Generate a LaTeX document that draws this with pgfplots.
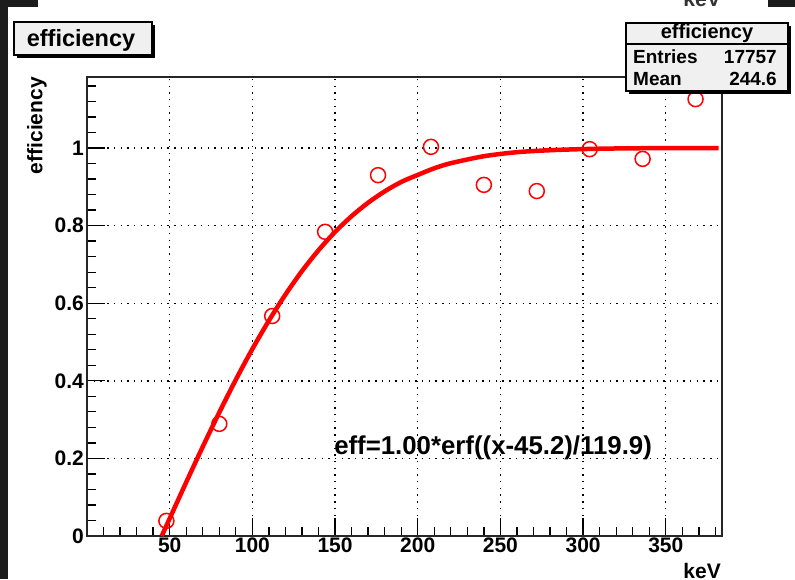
\documentclass[border=0pt]{standalone}
\usepackage{fontspec}
\setmainfont{Liberation Sans}
\usepackage{pgfplots}
\pgfplotsset{compat=1.18}
\definecolor{darkbg}{RGB}{28,28,28}
\definecolor{boxfill}{RGB}{240,240,240}
\begin{document}
\begin{tikzpicture}[x=1pt,y=1pt]
\path[use as bounding box] (0,0) rectangle (795,579);
\fill[white] (0,0) rectangle (795,579);
\fill[darkbg] (0,0) rectangle (8,579);
\fill[darkbg] (0,572) rectangle (38,579);
\fill[darkbg] (768,572) rectangle (795,579);
\begin{scope}
\clip (38,572) rectangle (768,579);
\node[anchor=base east, inner sep=0pt, font=\bfseries\fontsize{21}{21}\selectfont, text=black!80] at (721,572) {keV};
\end{scope}
\begin{axis}[
  at={(87pt,43pt)}, anchor=south west,
  width=635pt, height=459pt, scale only axis,
  xmin=0, xmax=384, ymin=0, ymax=1.183,
  axis line style={line width=1.5pt, black!85},
  tick align=inside, tick pos=left,
  xtick={50,100,150,200,250,300,350},
  xticklabels={50,100,150,200,250,300,350},
  minor xtick={10,20,30,40,60,70,80,90,110,120,130,140,160,170,180,190,210,220,230,240,260,270,280,290,310,320,330,340,360,370,380},
  ytick={0,0.2,0.4,0.6,0.8,1},
  yticklabels={0,0.2,0.4,0.6,0.8,1},
  minor ytick={0.04,0.08,0.12,0.16,0.24,0.28,0.32,0.36,0.44,0.48,0.52,0.56,0.64,0.68,0.72,0.76,0.84,0.88,0.92,0.96,1.04,1.08,1.12,1.16},
  major tick length=18pt, minor tick length=9pt,
  every tick/.style={black, line width=1.3pt},
  xmajorgrids, ymajorgrids,
  major grid style={black, line width=1.4pt, dash pattern=on 1.4pt off 5.3pt},
  /pgf/number format/assume math mode=true,
  xticklabel style={font=\bfseries\fontsize{21}{21}\selectfont, inner sep=2pt},
  yticklabel style={font=\bfseries\fontsize{21}{21}\selectfont, inner sep=3pt},
]
\addplot[red, line width=4.5pt, smooth] coordinates {
(45.2,0) (50,0.0451) (60,0.1386) (70,0.2301) (80,0.3185) (90,0.4028)
(100,0.4820) (110,0.5551) (120,0.6223) (130,0.6828) (140,0.7365)
(150,0.7836) (160,0.8243) (170,0.8590) (180,0.8882) (190,0.9124)
(200,0.9306) (210,0.9477) (220,0.9608) (240,0.9788) (260,0.9892)
(280,0.9943) (300,0.9972) (320,0.9988) (340,0.9995) (360,0.9998) (382,0.9999)
};
\addplot[only marks, mark=o, mark size=7.5pt, red, mark options={line width=1.5pt}] coordinates {
(48,0.039) (80,0.289) (112,0.567) (144,0.784) (176,0.930) (208,1.003)
(240,0.905) (272,0.889) (304,0.997) (336,0.972) (368,1.126)
};
\node[anchor=base west, inner sep=0pt, font=\bfseries\fontsize{25.8}{26}\selectfont] at (axis cs:149.4,0.211) {eff=1.00*erf((x-45.2)/119.9)};
\end{axis}
% axis titles
\node[rotate=90, anchor=north east, inner sep=0pt, font=\bfseries\fontsize{21}{21}\selectfont] at (27,502) {efficiency};
\node[anchor=north east, inner sep=0pt, font=\bfseries\fontsize{21}{21}\selectfont] at (721,16) {keV};
% title box
\fill[black] (17,521) rectangle (155,554);
\filldraw[fill=boxfill, draw=black, line width=1.2pt] (14,524) rectangle (152,557);
\node[anchor=base, inner sep=0pt, font=\bfseries\fontsize{23.5}{24}\selectfont] at (81,532) {efficiency};
% stats box
\fill[black] (629,485) rectangle (791,553);
\filldraw[fill=boxfill, draw=black, line width=1.2pt] (626,488) rectangle (788,556);
\draw[black, line width=1.2pt] (626,535) -- (788,535);
\node[anchor=base, inner sep=0pt, font=\bfseries\fontsize{20}{20}\selectfont] at (707,540) {efficiency};
\node[anchor=base west, inner sep=0pt, font=\bfseries\fontsize{19}{19}\selectfont] at (633,515) {Entries};
\node[anchor=base east, inner sep=0pt, font=\bfseries\fontsize{19}{19}\selectfont] at (777,515) {17757};
\node[anchor=base west, inner sep=0pt, font=\bfseries\fontsize{19}{19}\selectfont] at (633,493) {Mean};
\node[anchor=base east, inner sep=0pt, font=\bfseries\fontsize{19}{19}\selectfont] at (777,493) {244.6};
\end{tikzpicture}
\end{document}
